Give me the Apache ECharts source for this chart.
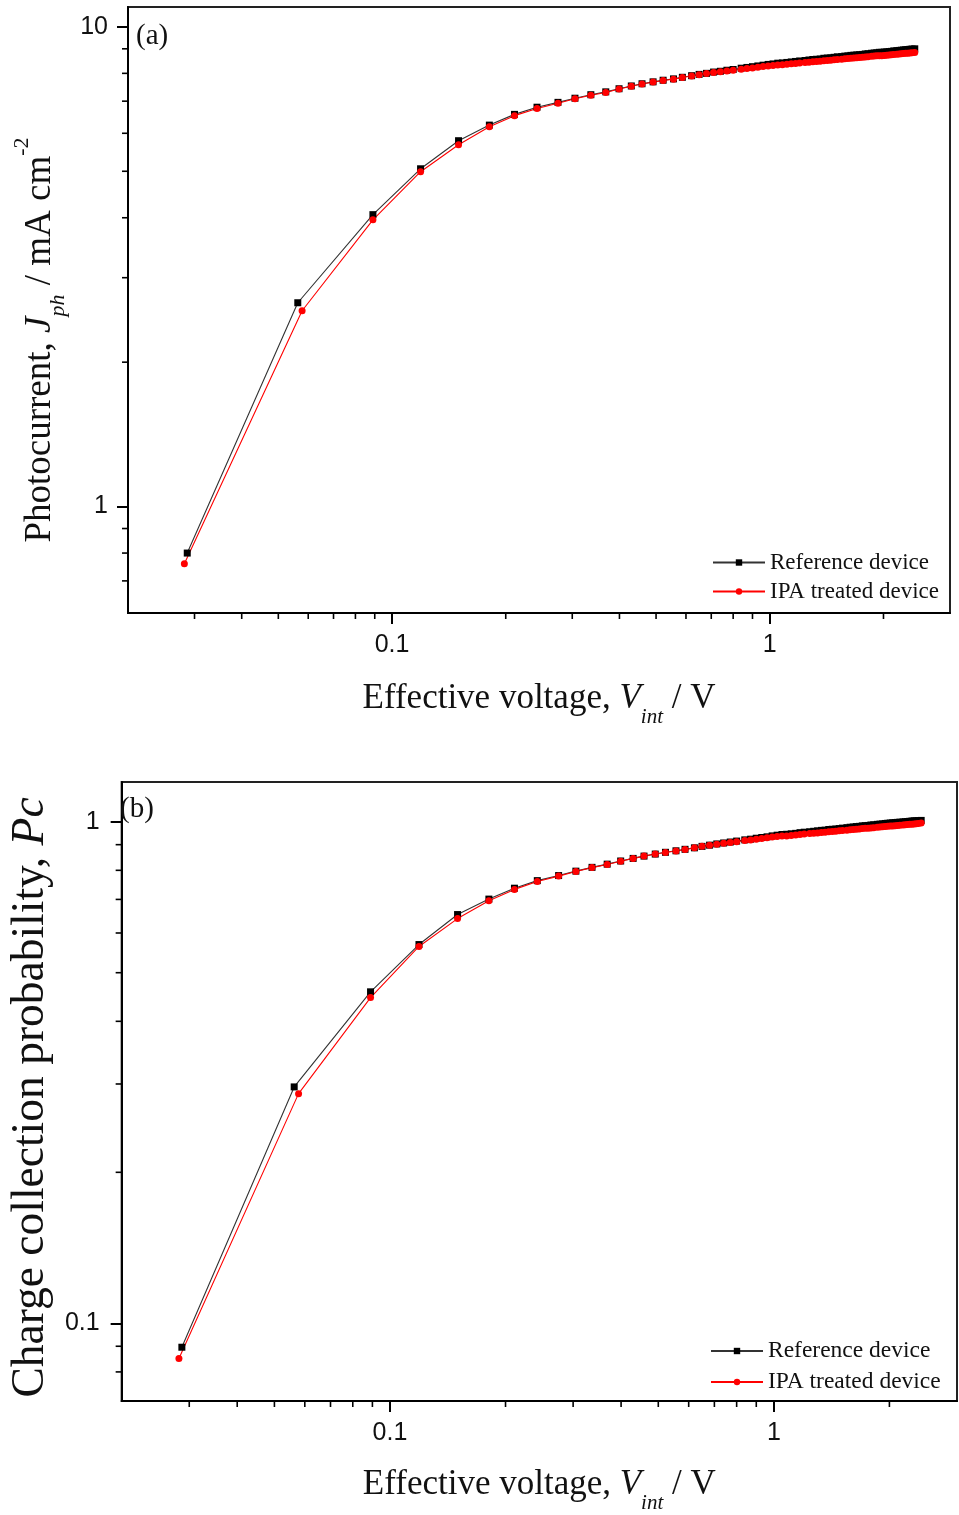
<!DOCTYPE html>
<html>
<head>
<meta charset="utf-8">
<script src="https://cdn.jsdelivr.net/npm/echarts@6/dist/echarts.min.js"></script>
<style>
  html, body { margin: 0; padding: 0; background: #fff; }
  #main { width: 959px; height: 1515px; }
</style>
</head>
<body>
<div id="main"></div>
<script>
// effective voltage V_int (V) – first two points differ slightly between devices
var voltHeadRef = [0.0287, 0.0563]
var voltHeadIpa = [0.0282, 0.0578]
var voltRest = [0.089, 0.119, 0.150, 0.181, 0.211, 0.242, 0.275, 0.305, 0.336, 0.368,
  0.399, 0.430, 0.459, 0.491, 0.522, 0.556, 0.587, 0.621, 0.65, 0.68, 0.71, 0.74, 0.77,
  0.80, 0.84, 0.87, 0.90, 0.93, 0.96, 0.99, 1.02, 1.05, 1.08, 1.11, 1.14, 1.17, 1.20,
  1.24, 1.27, 1.30, 1.33, 1.36, 1.39, 1.42, 1.45, 1.48, 1.51, 1.55, 1.58, 1.61, 1.64,
  1.67, 1.70, 1.73, 1.76, 1.79, 1.82, 1.86, 1.89, 1.92, 1.95, 1.98, 2.01, 2.04, 2.07,
  2.10, 2.13, 2.17, 2.20, 2.23, 2.26, 2.29, 2.32, 2.35, 2.38, 2.42]

// (a) photocurrent Jph (mA cm-2)
var jphRef = [0.80, 2.66, 4.06, 5.06, 5.79, 6.24, 6.57, 6.80, 6.96, 7.10, 7.22, 7.32, 7.43, 7.53, 7.61, 7.68, 7.74, 7.79, 7.85, 7.91,
  7.96, 8.00, 8.05, 8.08, 8.12, 8.15, 8.20, 8.23, 8.26, 8.29, 8.32, 8.35,
  8.37, 8.40, 8.41, 8.43, 8.45, 8.47, 8.49, 8.51, 8.53, 8.55, 8.56, 8.57,
  8.60, 8.61, 8.62, 8.64, 8.66, 8.67, 8.69, 8.70, 8.72, 8.73, 8.74, 8.75,
  8.76, 8.78, 8.79, 8.81, 8.82, 8.83, 8.85, 8.85, 8.86, 8.87, 8.88, 8.89,
  8.91, 8.92, 8.93, 8.94, 8.95, 8.96, 8.97, 8.98, 8.99, 9.00]
var jphIpa = [0.76, 2.56, 3.96, 4.99, 5.68, 6.19, 6.53, 6.76, 6.93, 7.08, 7.20, 7.30, 7.42, 7.52, 7.60, 7.67, 7.73, 7.78, 7.84, 7.90,
  7.95, 7.99, 8.03, 8.06, 8.09, 8.12, 8.16, 8.19, 8.21, 8.24, 8.27, 8.29,
  8.31, 8.33, 8.34, 8.36, 8.38, 8.39, 8.41, 8.43, 8.44, 8.46, 8.47, 8.48,
  8.50, 8.51, 8.52, 8.54, 8.55, 8.56, 8.58, 8.59, 8.60, 8.61, 8.62, 8.63,
  8.64, 8.65, 8.66, 8.68, 8.69, 8.70, 8.71, 8.71, 8.72, 8.73, 8.74, 8.75,
  8.76, 8.77, 8.78, 8.79, 8.80, 8.81, 8.81, 8.82, 8.83, 8.84]

// (b) charge collection probability Pc
var pcRef = [0.0896, 0.296, 0.458, 0.569, 0.653, 0.701, 0.737, 0.763, 0.781, 0.797, 0.811, 0.823, 0.835, 0.845, 0.854, 0.862, 0.869, 0.875, 0.881, 0.887,
  0.893, 0.898, 0.903, 0.907, 0.911, 0.915, 0.920, 0.923, 0.927, 0.930, 0.933, 0.937,
  0.940, 0.943, 0.944, 0.946, 0.948, 0.951, 0.953, 0.955, 0.957, 0.959, 0.961, 0.962,
  0.965, 0.966, 0.967, 0.969, 0.971, 0.973, 0.975, 0.976, 0.978, 0.979, 0.981, 0.982,
  0.983, 0.985, 0.986, 0.988, 0.989, 0.990, 0.992, 0.993, 0.994, 0.995, 0.996, 0.997,
  0.998, 0.999, 1.000, 1.001, 1.002, 1.003, 1.004, 1.004, 1.005, 1.006]
var pcIpa = [0.0851, 0.287, 0.446, 0.564, 0.641, 0.696, 0.733, 0.760, 0.779, 0.796, 0.810, 0.822, 0.834, 0.845, 0.854, 0.862, 0.868, 0.874, 0.880, 0.887,
  0.893, 0.898, 0.902, 0.906, 0.909, 0.912, 0.917, 0.920, 0.923, 0.926, 0.929, 0.932,
  0.934, 0.936, 0.937, 0.939, 0.941, 0.943, 0.945, 0.947, 0.948, 0.950, 0.952, 0.953,
  0.955, 0.956, 0.957, 0.959, 0.961, 0.962, 0.964, 0.965, 0.966, 0.967, 0.969, 0.970,
  0.971, 0.972, 0.973, 0.975, 0.976, 0.977, 0.978, 0.979, 0.980, 0.981, 0.982, 0.983,
  0.984, 0.985, 0.986, 0.987, 0.988, 0.989, 0.990, 0.991, 0.992, 0.994]

var legendNames = ['Reference device', 'IPA treated device']

// axis ranges and minor tick positions
var xRange = [0.02, 3]
var yRangeA = [0.6, 11]
var yRangeB = [0.07, 1.2]
var minorX = [0.03, 0.04, 0.05, 0.06, 0.07, 0.08, 0.09, 0.2, 0.3, 0.4, 0.5, 0.6, 0.7, 0.8, 0.9, 2]
var minorYA = [0.7, 0.8, 0.9, 2, 3, 4, 5, 6, 7, 8, 9]
var minorYB = [0.08, 0.09, 0.2, 0.3, 0.4, 0.5, 0.6, 0.7, 0.8, 0.9]

var voltRef = voltHeadRef.concat(voltRest)
var voltIpa = voltHeadIpa.concat(voltRest)

function zip(xs, ys) {
  return xs.map(function (x, i) { return [x, ys[i]] })
}

var serif = 'Liberation Serif'
var sans = 'Liberation Sans'
var ink = '#111'

function fmt(v) {
  return String(+Number(v).toPrecision(6))
}

function xAxisOf(gi, nameGap) {
  return {
    type: 'log', logBase: 10, gridIndex: gi,
    min: xRange[0], max: xRange[1],
    name: 'Effective voltage, {i|V}{s|int} / V',
    nameLocation: 'middle', nameGap: nameGap,
    nameTextStyle: {
      fontFamily: serif, fontSize: 35, color: ink, lineHeight: 58,
      rich: {
        i: { fontFamily: serif, fontSize: 35, fontStyle: 'italic', color: ink, lineHeight: 58 },
        s: { fontFamily: serif, fontSize: 21, fontStyle: 'italic', color: ink, verticalAlign: 'bottom' }
      }
    },
    axisLine: { lineStyle: { color: '#000', width: 2 } },
    axisTick: { length: 11, lineStyle: { color: '#000', width: 2 } },
    axisLabel: {
      fontFamily: sans, fontSize: 25, color: ink, margin: 20,
      showMinLabel: false, showMaxLabel: false, formatter: fmt
    },
    splitLine: { show: false }
  }
}

function lineSeries(gi, name, pts, sym, color, lineColor) {
  return {
    name: name, type: 'line', xAxisIndex: gi, yAxisIndex: gi,
    data: pts, symbol: sym, symbolSize: 7, showSymbol: true,
    itemStyle: { color: color },
    lineStyle: { color: lineColor, width: 1.1 },
    emphasis: { disabled: true }
  }
}

// minor ticks, placed with the axes' own coordinates
function minorTicks(gi, dim, values, anchor) {
  return {
    type: 'custom', xAxisIndex: gi, yAxisIndex: gi, silent: true, z: 5,
    data: values.map(function (v) { return dim === 'x' ? [v, anchor] : [anchor, v] }),
    renderItem: function (params, api) {
      var p = api.coord([api.value(0), api.value(1)])
      var q = dim === 'x' ? [p[0], p[1] + 6] : [p[0] - 6, p[1]]
      return {
        type: 'line',
        shape: { x1: p[0], y1: p[1], x2: q[0], y2: q[1] },
        style: { stroke: '#000', lineWidth: 1.6 }
      }
    }
  }
}

var legendBase = {
  data: legendNames, orient: 'vertical', selectedMode: false,
  itemWidth: 52, itemHeight: 8
}

var chart = echarts.init(document.getElementById('main'), null, { renderer: 'canvas' })

var option = {
  animation: false,
  backgroundColor: '#fff',
  title: [
    { text: '(a)', left: 131, top: 17, textStyle: { fontFamily: serif, fontSize: 29, fontWeight: 'normal', color: ink } },
    { text: '(b)', left: 115, top: 790, textStyle: { fontFamily: serif, fontSize: 29, fontWeight: 'normal', color: ink } }
  ],
  legend: [
    Object.assign({}, legendBase, {
      left: 707, top: 546, itemGap: 6,
      textStyle: { fontFamily: serif, fontSize: 23, color: ink }
    }),
    Object.assign({}, legendBase, {
      left: 705, top: 1334, itemGap: 7,
      textStyle: { fontFamily: serif, fontSize: 23.5, color: ink }
    })
  ],
  grid: [
    { left: 128, top: 7, width: 822, height: 606, show: true, borderColor: '#222', borderWidth: 2 },
    { left: 116, top: 782, width: 841, height: 621, show: true, borderColor: '#222', borderWidth: 2 }
  ],
  xAxis: [xAxisOf(0, 57), xAxisOf(1, 55)],
  yAxis: [
    {
      type: 'log', logBase: 10, gridIndex: 0,
      min: yRangeA[0], max: yRangeA[1],
      name: 'Photocurrent, {i|J}{s|ph} / mA cm{p|-2}',
      nameLocation: 'middle', nameGap: 57,
      nameTextStyle: {
        fontFamily: serif, fontSize: 37, color: ink, lineHeight: 58, padding: [0, 60, 0, 0],
        rich: {
          i: { fontFamily: serif, fontSize: 37, fontStyle: 'italic', color: ink, lineHeight: 58 },
          s: { fontFamily: serif, fontSize: 22, fontStyle: 'italic', color: ink, verticalAlign: 'bottom' },
          p: { fontFamily: serif, fontSize: 22, color: ink, verticalAlign: 'top' }
        }
      },
      axisLine: { lineStyle: { color: '#000', width: 2 } },
      axisTick: { length: 11, lineStyle: { color: '#000', width: 2 } },
      axisLabel: {
        fontFamily: sans, fontSize: 25, color: ink, margin: 20,
        showMinLabel: false, showMaxLabel: false, formatter: fmt
      },
      splitLine: { show: false }
    },
    {
      type: 'log', logBase: 10, gridIndex: 1,
      min: yRangeB[0], max: yRangeB[1],
      name: 'Charge collection probability, {i|Pc}',
      nameLocation: 'middle', nameGap: 58,
      nameTextStyle: {
        fontFamily: serif, fontSize: 45.5, color: ink, lineHeight: 46, padding: [0, 12, 0, 0],
        rich: { i: { fontFamily: serif, fontSize: 45.5, fontStyle: 'italic', color: ink, lineHeight: 46 } }
      },
      axisLine: { lineStyle: { color: '#000', width: 2 } },
      axisTick: { length: 11, lineStyle: { color: '#000', width: 2 } },
      axisLabel: {
        fontFamily: sans, fontSize: 25, color: ink, margin: 22,
        showMinLabel: false, showMaxLabel: false, formatter: fmt
      },
      splitLine: { show: false }
    }
  ],
  series: [
    lineSeries(0, legendNames[0], zip(voltRef, jphRef), 'rect', '#000', '#333'),
    lineSeries(0, legendNames[1], zip(voltIpa, jphIpa), 'circle', '#ff0000', '#ff0000'),
    lineSeries(1, legendNames[0], zip(voltRef, pcRef), 'rect', '#000', '#333'),
    lineSeries(1, legendNames[1], zip(voltIpa, pcIpa), 'circle', '#ff0000', '#ff0000'),
    minorTicks(0, 'x', minorX, yRangeA[0]),
    minorTicks(0, 'y', minorYA, xRange[0]),
    minorTicks(1, 'x', minorX, yRangeB[0]),
    minorTicks(1, 'y', minorYB, xRange[0])
  ]
}

chart.setOption(option)
</script>
</body>
</html>
